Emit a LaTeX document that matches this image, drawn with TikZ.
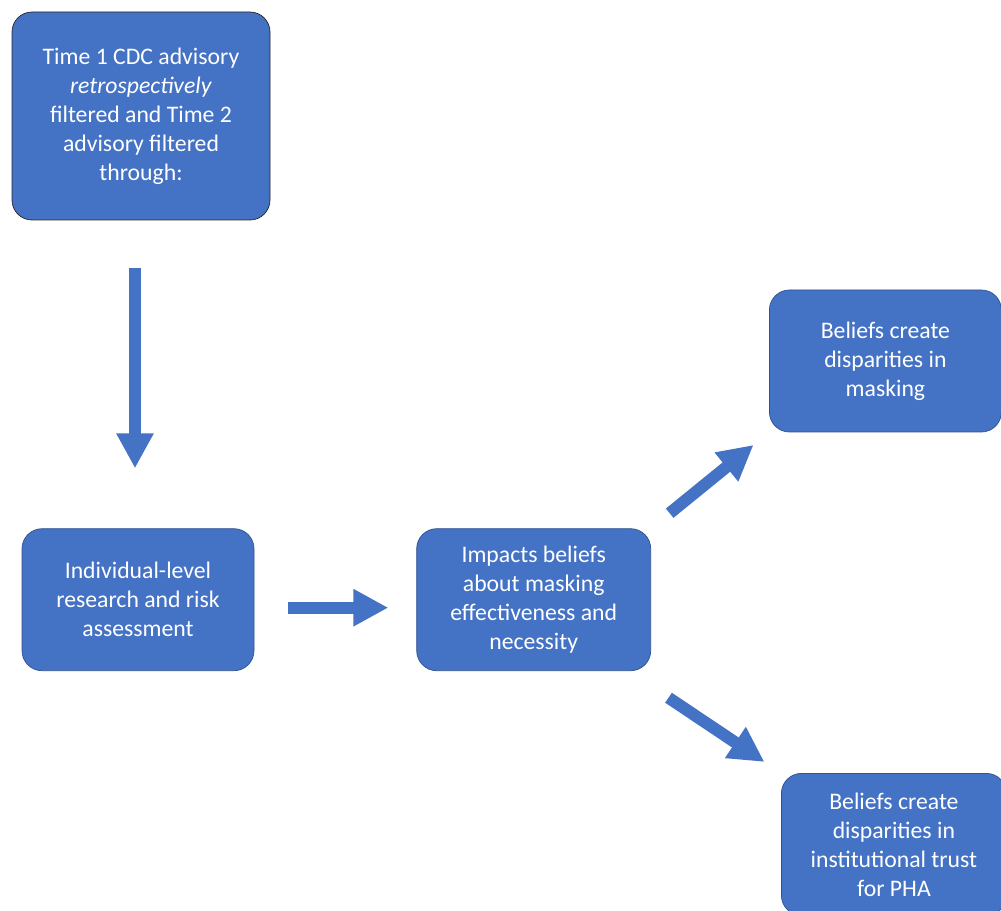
\documentclass[tikz,border=0pt]{standalone}
\usepackage{fontspec}
\setmainfont{Carlito}
\usepackage{xcolor}
\usetikzlibrary{arrows.meta,positioning,shapes.geometric}

\definecolor{boxblue}{HTML}{4472C4}
\definecolor{boxline}{HTML}{2F528F}

\begin{document}
\begin{tikzpicture}[
  node distance=3.5mm,
  box/.style={draw=boxline, fill=boxblue, text=white, rounded corners=0.4cm, align=center,
    minimum width=4.64cm, minimum height=2.84cm, font=\fontsize{13.5}{16.5}\selectfont},
  fat/.style={draw=boxblue, line width=0.24cm, -{Triangle[width=0.7cm,length=0.7cm]}}
]
\useasboundingbox (0,0) rectangle (20.02,18.2);
\node[box, draw=black!85, minimum width=5.16cm, minimum height=4.16cm] (advisory) at (2.82,15.88)
  {Time 1 CDC advisory\\\textit{retrospectively}\\filtered and Time 2\\advisory filtered\\through:};
\node[box, below=6.16cm of advisory, xshift=-0.06cm] (research) {Individual-level\\research and risk\\assessment};
\node[box, right=3.24cm of research, minimum width=4.68cm] (beliefs) {Impacts beliefs\\about masking\\effectiveness and\\necessity};
\node[box, above right=1.92cm and 2.36cm of beliefs] (masking) {Beliefs create\\disparities in\\masking};
\node[box, below right=2.04cm and 2.6cm of beliefs, minimum width=4.5cm] (trust) {Beliefs create\\disparities in\\institutional trust\\for PHA};
\draw[fat, shorten <=0.96cm, shorten >=1.2cm] ([xshift=-0.12cm]advisory.south) -- ([xshift=-0.06cm]research.north);
\draw[fat, shorten <=0.68cm, shorten >=0.56cm] ([yshift=-0.16cm]research.east) -- ([yshift=-0.16cm]beliefs.west);
\draw[fat, shorten <=0.48cm, shorten >=0.4cm] (beliefs.north east) -- (masking.south west);
\draw[fat, shorten <=0.42cm, shorten >=0.4cm] ([yshift=-0.3cm]beliefs.south east) -- (trust.north west);
\end{tikzpicture}
\end{document}
